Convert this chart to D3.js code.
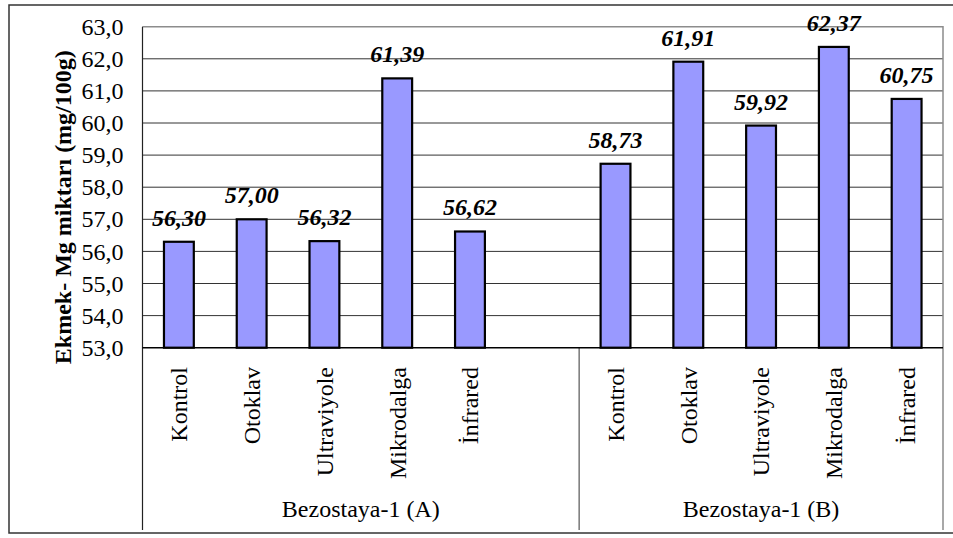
<!DOCTYPE html>
<html>
<head>
<meta charset="utf-8">
<script src="https://cdn.jsdelivr.net/npm/d3@7"></script>
<style>
  body { margin: 0; background: #fff; }
  text { font-family: "Liberation Serif", "Times New Roman", serif; }
</style>
</head>
<body>
<script>
var width = 953,
    height = 538;

// data
var treatments = ["Kontrol", "Otoklav", "Ultraviyole", "Mikrodalga", "İnfrared"];
var groups = ["Bezostaya-1 (A)", "Bezostaya-1 (B)"];
var valuesA = [56.30, 57.00, 56.32, 61.39, 56.62];
var valuesB = [58.73, 61.91, 59.92, 62.37, 60.75];
var yTicks = [53, 54, 55, 56, 57, 58, 59, 60, 61, 62, 63];

// 11 slots: 5 for A, one empty one, 5 for B
var slots = [];
treatments.forEach(function (t, i) { slots.push({key: "A" + i, name: t, value: valuesA[i]}); });
slots.push({key: "gap", name: "", value: null});
treatments.forEach(function (t, i) { slots.push({key: "B" + i, name: t, value: valuesB[i]}); });

var pLeft = 142.5, pRight = 943, pTop = 26.7, pBottom = 347.7, axisEnd = 530;

var svg = d3.select("body").append("svg").attr("width", width).attr("height", height);

// outer chart frame
svg.append("rect")
    .attr("x", 9).attr("y", 5)
    .attr("width", 960).attr("height", 528)
    .attr("fill", "none").attr("stroke", "#333").attr("stroke-width", 1.5);

var x = d3.scaleBand().domain(slots.map(d => d.key)).range([pLeft, pRight]);
var y = d3.scaleLinear().domain([53, 63]).range([pBottom, pTop]);
var fmt = v => d3.format(".1f")(v).replace(".", ",");
var fmt2 = v => d3.format(".2f")(v).replace(".", ",");

// gridlines
svg.append("g").selectAll("line").data(yTicks.slice(1, -1)).enter().append("line")
    .attr("x1", pLeft).attr("x2", pRight)
    .attr("y1", d => y(d)).attr("y2", d => y(d))
    .attr("stroke", "#333").attr("stroke-width", 1);

// plot frame (top and right grey)
svg.append("path")
    .attr("d", "M" + pLeft + "," + pTop + "H" + pRight + "V" + axisEnd)
    .attr("fill", "none").attr("stroke", "#8c8c8c").attr("stroke-width", 1.5);

// y axis
var yAxis = d3.axisLeft(y).tickValues(yTicks).tickFormat(fmt).tickSize(0).tickPadding(19);
var ga = svg.append("g").attr("transform", "translate(" + pLeft + ",0)").call(yAxis);
ga.select(".domain").remove();
ga.selectAll("text")
    .attr("font-family", "Liberation Serif").attr("font-size", 24).attr("fill", "#000");

svg.append("line")
    .attr("x1", pLeft).attr("x2", pLeft).attr("y1", pTop).attr("y2", axisEnd)
    .attr("stroke", "#222").attr("stroke-width", 1.2);

// separator between the two groups
svg.append("line")
    .attr("x1", x("B0")).attr("x2", x("B0")).attr("y1", pBottom).attr("y2", axisEnd)
    .attr("stroke", "#555").attr("stroke-width", 1.2);

// bars
var bw = x.bandwidth() * 0.41;
var bars = slots.filter(d => d.value !== null);
svg.append("g").selectAll("rect").data(bars).enter().append("rect")
    .attr("x", d => x(d.key) + (x.bandwidth() - bw) / 2)
    .attr("y", d => y(d.value))
    .attr("width", bw)
    .attr("height", d => pBottom - y(d.value))
    .attr("fill", "#9999ff")
    .attr("stroke", "#000").attr("stroke-width", 2.2);

// x axis line
svg.append("line")
    .attr("x1", pLeft).attr("x2", pRight).attr("y1", pBottom).attr("y2", pBottom)
    .attr("stroke", "#000").attr("stroke-width", 1.5);

// value labels
svg.append("g").selectAll("text").data(bars).enter().append("text")
    .attr("x", d => x(d.key) + x.bandwidth() / 2)
    .attr("y", d => y(d.value) - 16)
    .attr("text-anchor", "middle")
    .attr("font-size", 24).attr("font-weight", "bold").attr("font-style", "italic")
    .text(d => fmt2(d.value));

// category labels (rotated)
svg.append("g").selectAll("text").data(bars).enter().append("text")
    .attr("transform", d => "translate(" + (x(d.key) + x.bandwidth() / 2) + ",367) rotate(-90)")
    .attr("dy", "0.35em")
    .attr("text-anchor", "end")
    .attr("font-size", 24)
    .text(d => d.name);

// group labels
var groupSpans = [[pLeft, x("B0")], [x("B0"), pRight]];
svg.append("g").selectAll("text").data(groups).enter().append("text")
    .attr("x", (d, i) => (groupSpans[i][0] + groupSpans[i][1]) / 2)
    .attr("y", 517)
    .attr("text-anchor", "middle")
    .attr("font-size", 24)
    .text(d => d);

// y title
svg.append("text")
    .attr("transform", "translate(63," + ((pTop + pBottom) / 2 + 20) + ") rotate(-90)")
    .attr("dy", "0.35em")
    .attr("text-anchor", "middle")
    .attr("font-size", 24).attr("font-weight", "bold")
    .text("Ekmek- Mg miktarı (mg/100g)");
</script>
</body>
</html>
